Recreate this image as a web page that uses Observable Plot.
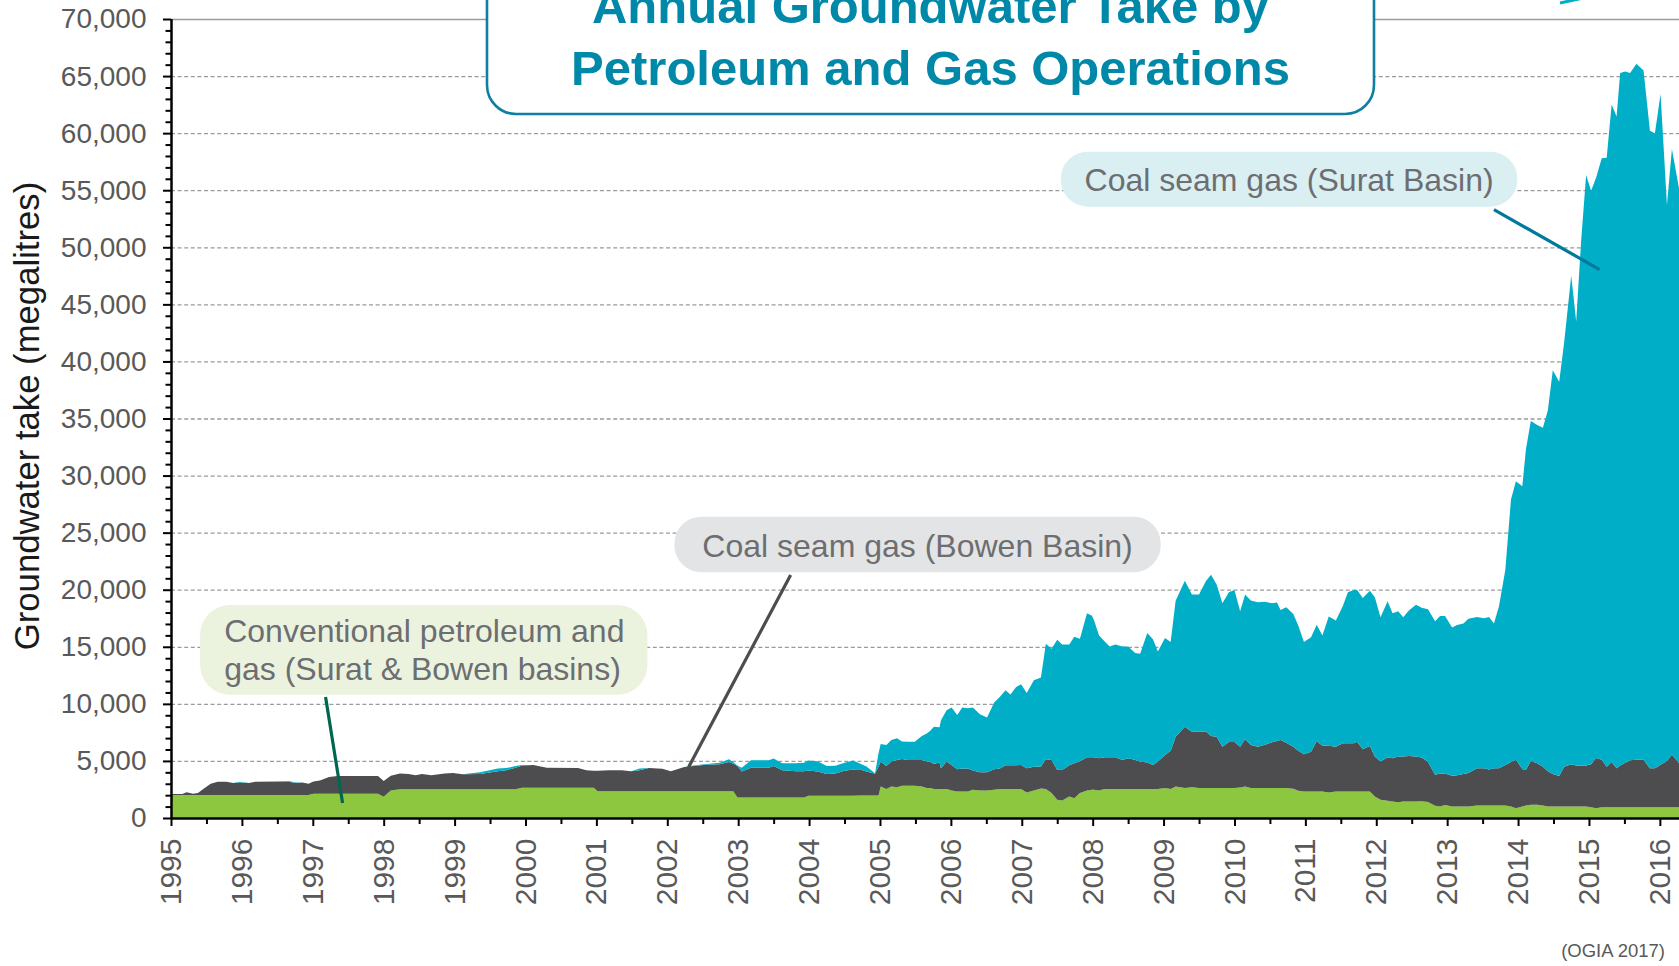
<!DOCTYPE html>
<html>
<head>
<meta charset="utf-8">
<script src="https://cdn.jsdelivr.net/npm/d3@7"></script>
<script src="https://cdn.jsdelivr.net/npm/@observablehq/plot@0.6"></script>
<style>
  html, body { margin: 0; padding: 0; background: #fff; }
  #wrap { position: relative; width: 1679px; height: 966px; overflow: hidden; background: #fff; }
  #chart { position: absolute; left: 0; top: 0; width: 1679px; height: 966px; overflow: hidden; }
  #chart svg { overflow: hidden; }
</style>
</head>
<body>
<div id="wrap">
  <div id="chart"></div>
</div>
<script>
// ---------- data ----------
const seriesNames = ["Conventional petroleum and gas", "Coal seam gas (Bowen Basin)", "Coal seam gas (Surat Basin)"];
const seriesColors = ["#8DC63F", "#4D4D4F", "#00AFC7"];

const dates = [
  1995.00,1995.16,1995.22,1995.31,1995.38,1995.47,1995.56,1995.66,1995.78,1995.88,1995.97,
  1996.10,1996.19,1996.66,1996.76,1996.85,1996.94,
  1997.01,1997.10,1997.23,1997.35,1997.92,
  1998.00,1998.10,1998.23,1998.35,1998.45,1998.54,1998.67,1998.86,1998.98,
  1999.11,1999.36,1999.61,1999.73,1999.86,1999.95,
  2000.11,2000.30,2000.74,2000.86,2000.96,
  2001.02,2001.18,2001.36,2001.49,2001.61,2001.74,2001.93,
  2002.05,2002.24,2002.37,2002.55,2002.74,2002.87,2002.93,2002.99,
  2003.05,2003.18,2003.43,2003.50,2003.62,2003.81,2003.93,2003.99,
  2004.12,2004.25,2004.37,2004.50,2004.62,2004.71,2004.81,2004.93,2004.98,
  2005.01,2005.09,2005.16,2005.24,2005.31,2005.39,2005.49,2005.59,2005.66,2005.71,2005.76,2005.84,2005.86,2005.94,
  2006.01,2006.09,2006.16,2006.24,2006.31,2006.41,2006.51,2006.61,2006.69,2006.77,2006.84,2006.92,2006.99,
  2007.07,2007.17,2007.27,2007.34,2007.42,2007.50,2007.57,2007.67,2007.74,2007.82,2007.92,2007.99,
  2008.02,2008.09,2008.17,2008.24,2008.32,2008.42,2008.50,2008.60,2008.67,2008.77,2008.85,2008.92,
  2009.02,2009.10,2009.17,2009.30,2009.40,2009.50,2009.60,2009.67,2009.75,2009.83,2009.92,
  2010.00,2010.08,2010.15,2010.23,2010.33,2010.43,2010.53,2010.60,2010.65,2010.73,2010.83,2010.90,2010.98,
  2011.08,2011.16,2011.24,2011.33,2011.43,2011.53,2011.60,2011.68,2011.73,2011.81,2011.91,2011.98,
  2012.06,2012.16,2012.23,2012.31,2012.38,2012.46,2012.56,2012.64,2012.73,2012.83,2012.90,2012.97,
  2013.07,2013.14,2013.23,2013.30,2013.42,2013.52,2013.59,2013.66,2013.73,2013.82,2013.90,2013.97,
  2014.06,2014.11,2014.18,2014.27,2014.35,2014.42,2014.49,2014.58,2014.65,2014.75,2014.82,2014.89,2014.96,
  2015.03,2015.10,2015.18,2015.25,2015.32,2015.39,2015.44,2015.51,2015.58,2015.67,2015.77,2015.86,2015.93,
  2016.01,2016.10,2016.17,2016.27
];

const conventional = [
  2010,2010,2010,2010,2010,2010,2010,2010,2010,2010,2010,
  2010,2010,2010,2010,2010,2010,
  2130,2130,2130,2130,2130,
  1860,2400,2520,2520,2520,2520,2520,2520,2520,
  2520,2520,2520,2520,2520,2640,
  2640,2640,2640,2640,2640,
  2340,2340,2340,2340,2340,2340,2340,
  2340,2340,2340,2340,2340,2340,2340,1800,
  1800,1800,1800,1800,1800,1800,1800,1950,
  1950,1950,1950,1950,1950,1980,1980,1980,1980,
  2760,2530,2760,2700,2820,2820,2820,2760,2620,2620,2530,2530,2530,2530,
  2410,2330,2330,2330,2470,2410,2410,2470,2530,2530,2530,2530,2530,
  2240,2410,2590,2530,2180,1600,1540,1890,1740,2180,2410,2470,
  2470,2410,2530,2530,2530,2530,2530,2530,2530,2530,2530,2530,
  2620,2530,2760,2620,2700,2620,2620,2620,2620,2620,2620,
  2620,2670,2760,2620,2620,2620,2620,2620,2620,2620,2560,2380,2330,
  2330,2330,2330,2240,2330,2330,2330,2330,2330,2330,2330,1890,
  1600,1510,1450,1370,1450,1450,1450,1460,1400,1070,1000,1130,
  1000,1000,1000,1000,1100,1100,1100,1100,1100,1100,1000,850,
  1000,1100,1160,1160,1100,1000,1000,1000,1000,1000,1000,1000,1000,
  940,850,940,940,940,940,940,940,940,940,940,940,940,
  940,940,940,940
];

const bowen = [
  90,90,240,120,180,600,990,1170,1170,1050,1100,
  1050,1170,1170,1050,1100,990,
  1070,1160,1460,1550,1550,
  1380,1310,1370,1340,1220,1340,1220,1370,1430,
  1310,1340,1580,1670,1880,1960,
  2000,1760,1730,1550,1490,
  1790,1850,1850,1760,1850,2030,1970,
  1760,2120,2210,2330,2360,2570,2410,2750,
  2270,2600,2600,2750,2390,2300,2300,2210,
  2120,1910,1940,2180,2300,2290,2090,1890,2530,
  2180,2030,2180,2390,2350,2270,2270,2330,2320,2280,2210,2330,1830,2410,
  2240,1950,2000,2000,1690,1600,1600,1800,1800,2090,2090,2090,2120,
  2120,2090,1920,2620,2910,2620,2670,2730,3050,2790,2910,2850,
  2850,2820,2790,2790,2790,2560,2700,2560,2410,2330,2120,2410,
  2910,3370,4360,5380,4860,4940,4940,4560,4500,3630,4040,
  4040,3580,4160,3780,3630,3800,4010,4120,4210,3980,3690,3520,3250,
  3480,4410,4010,4100,3920,4210,4210,4210,4360,3690,3980,3490,
  3340,3810,3780,4010,3930,3990,3930,3840,3500,2730,2900,2770,
  2700,2750,2850,2950,3250,3250,3160,3250,3250,3550,3900,4260,
  3300,3100,3840,3640,3400,3100,2850,2680,3500,3700,3600,3570,3600,
  3760,4410,4160,3560,3960,3410,3660,3910,4110,4170,4170,3410,3410,
  3720,4060,4630,3870
];

const surat = [
  0,0,0,0,0,0,0,0,0,0,60,
  0,0,60,60,0,0,
  0,0,0,0,0,
  0,0,0,0,0,0,0,0,0,
  0,150,240,180,150,50,
  0,0,0,0,0,
  0,0,0,0,150,0,0,
  0,0,60,60,150,240,150,60,
  330,660,660,660,600,690,750,870,
  900,690,690,720,780,520,440,60,1160,
  1540,1830,1890,1890,1540,1600,1600,2090,2470,2750,3260,3080,4210,4510,
  5030,4740,5350,5290,5520,5090,4800,5840,6280,6570,6190,6860,7060,
  6600,7560,7790,10120,9740,11400,10990,10580,11100,10730,12620,12410,
  11980,10760,10150,9710,9880,9940,9800,9360,9450,11340,11020,9650,
  10230,9510,11920,12790,12010,12010,13230,14130,13310,12560,13110,
  13310,11860,12650,12650,12650,12530,12180,12150,11400,11860,11630,10960,9830,
  10030,10200,9650,11310,11050,12060,13230,13430,13290,13260,13610,13950,
  12650,13660,12700,12730,12210,12730,13310,13120,13390,13430,13800,13800,
  12980,13160,13200,13510,13250,13160,13340,12700,14170,17070,23010,24400,
  24760,28060,29780,29620,29690,31600,35380,34540,37160,42830,38890,46030,51730,
  50250,50840,52690,53340,57610,57110,60660,60550,60210,60980,60380,55870,55640,
  58770,48710,53050,50370
];

// axis ticks
const yearTicks = [1995,1996,1997,1998,1999,2000,2001,2002,2003,2004,2005,2006,2007,2008,2009,2010,2011,2012,2013,2014,2015,2016];
const halfYearTicks = yearTicks.slice(0, -1).map(y => y + 0.5);
const valueTicks = [0,5000,10000,15000,20000,25000,30000,35000,40000,45000,50000,55000,60000,65000,70000];
const minorValueTicks = d3.range(0, 70001, 1000).filter(v => v % 5000 !== 0);
const gridValues = valueTicks.filter(v => v > 0 && v < 70000);

// text
const titleLines = ["Annual Groundwater Take by", "Petroleum and Gas Operations"];
const yTitle = "Groundwater take (megalitres)";
const source = "(OGIA 2017)";

// ---------- table for the library ----------
const valuesBySeries = [conventional, bowen, surat];
const table = [];
dates.forEach((d, i) => {
  seriesNames.forEach((s, k) => table.push({date: d, series: s, value: valuesBySeries[k][i]}));
});

const FONT = '"Liberation Sans", Arial, sans-serif';

const chart = Plot.plot({
  width: 1679,
  height: 966,
  marginTop: 19,
  marginBottom: 148,
  marginLeft: 171,
  marginRight: 0,
  style: {fontFamily: FONT, background: "#fff", overflow: "hidden"},
  x: {domain: [1995, 2016.27]},
  y: {domain: [0, 70000]},
  color: {domain: seriesNames, range: seriesColors},
  marks: [
    Plot.ruleY(gridValues, {stroke: "#9b9b9b", strokeWidth: 1.3, strokeDasharray: "4,2.6"}),
    Plot.ruleY([70000], {stroke: "#9b9b9b", strokeWidth: 1.6}),
    Plot.areaY(table, Plot.stackY({x: "date", y: "value", fill: "series", order: seriesNames, curve: "linear"})),
    Plot.axisY(minorValueTicks, {tickSize: 5.5, tickFormat: () => "", stroke: "#000", strokeWidth: 2, label: null}),
    Plot.axisY(valueTicks, {tickSize: 8, tickPadding: 17, tickFormat: d3.format(","), fontSize: 28, fill: "#595959", stroke: "#000", strokeWidth: 2, label: null}),
    Plot.axisX(halfYearTicks, {tickSize: 6, tickFormat: () => "", stroke: "#000", strokeWidth: 2, label: null}),
    Plot.axisX(yearTicks, {tickSize: 8, tickPadding: 12, tickRotate: -90, tickFormat: d => String(d), fontSize: 30, fill: "#595959", stroke: "#000", strokeWidth: 2, label: null}),
    Plot.ruleX([1995], {stroke: "#000", strokeWidth: 2.5}),
    Plot.ruleY([0], {stroke: "#000", strokeWidth: 2.5})
  ]
});
document.getElementById("chart").appendChild(chart);

// ---------- annotations (positioned through the chart's scales) ----------
const sx = chart.scale("x"), sy = chart.scale("y");
const X = v => sx.apply(v), Y = v => sy.apply(v);
const svg = d3.select(chart);
const ann = svg.append("g").attr("font-family", FONT);

const labelBoxes = [
  {x1: 1995.41, x2: 2001.72, y1: 18660, y2: 10800, fill: "#EBF3DF", rx: 30},
  {x1: 2002.10, x2: 2008.96, y1: 26400, y2: 21530, fill: "#E3E4E5", rx: 27},
  {x1: 2007.55, x2: 2013.99, y1: 58380, y2: 53560, fill: "#DAEFF2", rx: 27}
];
labelBoxes.forEach(b => {
  ann.append("rect")
    .attr("x", X(b.x1)).attr("y", Y(b.y1))
    .attr("width", X(b.x2) - X(b.x1)).attr("height", Y(b.y2) - Y(b.y1))
    .attr("rx", b.rx).attr("ry", b.rx)
    .attr("fill", b.fill);
});

const leaders = [
  {x1: 1997.18, y1: 10600, x2: 1997.42, y2: 1310, stroke: "#00664F"},
  {x1: 2003.74, y1: 21300, x2: 2002.30, y2: 4450, stroke: "#4D4D4F"},
  {x1: 2013.66, y1: 53300, x2: 2015.15, y2: 48050, stroke: "#00799C"}
];
leaders.forEach(l => {
  ann.append("line")
    .attr("x1", X(l.x1)).attr("y1", Y(l.y1))
    .attr("x2", X(l.x2)).attr("y2", Y(l.y2))
    .attr("stroke", l.stroke).attr("stroke-width", 3.2);
});

const labelTexts = [
  {x: 1995.75, y: 15430, anchor: "start", text: "Conventional petroleum and"},
  {x: 1995.75, y: 12050, anchor: "start", text: "gas (Surat & Bowen basins)"},
  {x: 2005.53, y: 22900, anchor: "middle", text: "Coal seam gas (Bowen Basin)"},
  {x: 2010.77, y: 54950, anchor: "middle", text: "Coal seam gas (Surat Basin)"}
];
labelTexts.forEach(t => {
  ann.append("text")
    .attr("x", X(t.x)).attr("y", Y(t.y))
    .attr("text-anchor", t.anchor)
    .attr("font-size", 32)
    .attr("fill", "#6D6E71")
    .text(t.text);
});

// title box (cut off at the top like the reference)
ann.append("rect")
  .attr("x", 487).attr("y", -120).attr("width", 887).attr("height", 234)
  .attr("rx", 29).attr("ry", 29)
  .attr("fill", "#fff").attr("stroke", "#0E7FA0").attr("stroke-width", 2.6);
titleLines.forEach((line, i) => {
  ann.append("text")
    .attr("x", 930.5).attr("y", 23 + i * 61.5)
    .attr("text-anchor", "middle")
    .attr("font-size", 49).attr("font-weight", "bold")
    .attr("fill", "#0088A8")
    .text(line);
});
// fragment of a cut-off teal leader at the top right
ann.append("line")
  .attr("x1", 1560).attr("y1", 3).attr("x2", 1588).attr("y2", -3)
  .attr("stroke", "#00AFC7").attr("stroke-width", 3);

// y axis title
ann.append("text")
  .attr("transform", "translate(38.5,416) rotate(-90)")
  .attr("text-anchor", "middle")
  .attr("font-size", 34.7)
  .attr("fill", "#1a1a1a")
  .text(yTitle);

// source caption
ann.append("text")
  .attr("x", 1665).attr("y", 957)
  .attr("text-anchor", "end")
  .attr("font-size", 18.5)
  .attr("fill", "#595959")
  .text(source);
</script>
</body>
</html>
